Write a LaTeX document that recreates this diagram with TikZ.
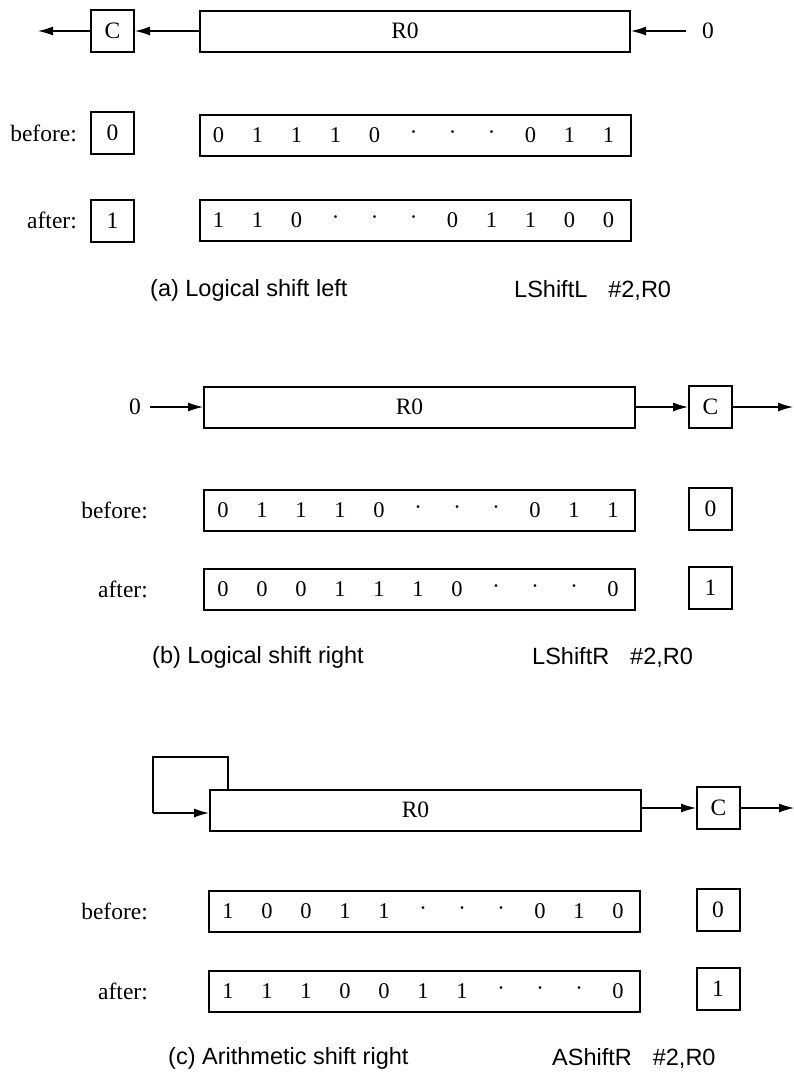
\documentclass[tikz,border=0pt]{standalone}
\usepackage{fontspec}
\setmainfont{Liberation Serif}
\newfontfamily\capfont{Liberation Sans}
\usetikzlibrary{arrows.meta,calc}
\tikzset{
  serif/.style={font=\fontsize{23.5}{23.5}\selectfont},
  box/.style={draw, line width=2pt, inner sep=0pt, serif},
  reg/.style={box, minimum height=41pt, minimum width=431pt},
  cbox/.style={box, minimum width=43pt, minimum height=42pt},
  lbl/.style={anchor=east, inner sep=0pt, serif},
  bit/.style={inner sep=0pt, font=\fontsize{22.5}{22.5}\selectfont},
  captext/.style={anchor=west, inner sep=0pt, font=\capfont\fontsize{23.5}{23.5}\selectfont},
  arr/.style={-{Latex[length=15pt,width=9pt]}, line width=1.2pt},
  feed/.style={line width=1.2pt},
  rlabel/.style={label={[xshift=-10pt, serif]center:R0}}
}
\newcommand\bitrow[4]{%
  \node[reg] (#1) at (#2,#3) {};
  \foreach \b [count=\i from 0] in {#4}
    \node[bit] (#1-\i) at ($(#1.west)+(20+39*\i,0)$) {\b};
}
\begin{document}
\begin{tikzpicture}[x=1pt,y=-1pt]
\useasboundingbox (0,0) rectangle (794,1077);

% ---------------- (a) Logical shift left ----------------
\node[reg, minimum width=430pt, rlabel] (ra) at (415,31) {};
\node[cbox] (ca) at (112.5,31) {C};
\coordinate (aout) at (38,31);
\node[inner sep=0pt, serif] (ain) at (708,31) {0};
\draw[arr] (ain.west) ++(-16,0) -- (ra.east);
\draw[arr] (ra.west) -- (ca.east);
\draw[arr] (ca.west) -- (aout);

\node[lbl] (abl) at (77,133) {before:};
\node[cbox] (acb) at (112.5,133) {0};
\bitrow{abr}{415}{135}{0,1,1,1,0,·,·,·,0,1,1}

\node[lbl] (aal) at (77,220) {after:};
\node[cbox] (aca) at (112.5,221) {1};
\bitrow{aar}{415}{220}{1,1,0,·,·,·,0,1,1,0,0}

\node[captext] (acap) at (150,290) {(a) Logical shift left};
\node[captext] (ains) at (514,290) {LShiftL\hspace{21pt}\#2,R0};

% ---------------- (b) Logical shift right ----------------
\node[reg, rlabel] (rb) at (419.5,407) {};
\node[inner sep=0pt, serif] (bin) at (135,407) {0};
\node[cbox] (cb) at (710.5,407) {C};
\coordinate (bout) at (793,407);
\draw[arr] (bin.east) ++(9,0) -- (rb.west);
\draw[arr] (rb.east) -- (cb.west);
\draw[arr] (cb.east) -- (bout);

\node[lbl] (bbl) at (148,510) {before:};
\bitrow{bbr}{419.5}{510}{0,1,1,1,0,·,·,·,0,1,1}
\node[cbox] (bcb) at (710.5,509) {0};

\node[lbl] (bal) at (148,589) {after:};
\bitrow{bar}{419.5}{589}{0,0,0,1,1,1,0,·,·,·,0}
\node[cbox] (bca) at (710.5,588) {1};

\node[captext] (bcap) at (152,657) {(b) Logical shift right};
\node[captext] (bins) at (532,657) {LShiftR\hspace{21pt}\#2,R0};

% ---------------- (c) Arithmetic shift right ----------------
\node[reg, rlabel] (rc) at (425.5,810) {};
\node[cbox] (cc) at (718.5,808) {C};
\coordinate (cout) at (794,808);
\coordinate (f2) at (153,757);
\coordinate (f3) at (153,813);
\draw[feed] (rc.north west) ++(19,0) |- (f2) -- (f3);
\draw[arr] (f3) -- (f3 -| rc.west);
\draw[arr] (rc.east |- cc) -- (cc.west);
\draw[arr] (cc.east) -- (cout);

\node[lbl] (cbl) at (148,911) {before:};
\bitrow{cbr}{424.5}{911}{1,0,0,1,1,·,·,·,0,1,0}
\node[cbox] (ccb) at (718,909.5) {0};

\node[lbl] (cal) at (148,991) {after:};
\bitrow{car}{424.5}{991}{1,1,1,0,0,1,1,·,·,·,0}
\node[cbox] (cca) at (718,988.5) {1};

\node[captext] (ccap) at (168,1058) {(c) Arithmetic shift right};
\node[captext] (cins) at (552,1058) {AShiftR\hspace{21pt}\#2,R0};
\end{tikzpicture}
\end{document}
